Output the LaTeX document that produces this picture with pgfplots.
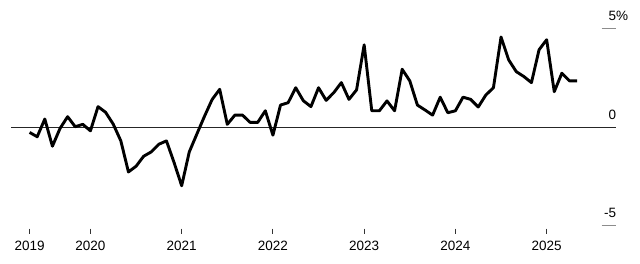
\documentclass[border=0pt]{standalone}
\usepackage{pgfplots}
\pgfplotsset{compat=1.18}
\usepackage{fontspec}
\setmainfont{Liberation Sans}
\pgfplotstableread{
m v
4 -0.27
5 -0.49
6 0.41
7 -0.97
8 -0.07
9 0.53
10 0.02
11 0.14
12 -0.19
13 1.04
14 0.75
15 0.15
16 -0.70
17 -2.28
18 -1.99
19 -1.48
20 -1.26
21 -0.87
22 -0.70
23 -1.80
24 -2.98
25 -1.26
26 -0.35
27 0.55
28 1.40
29 1.92
30 0.14
31 0.61
32 0.61
33 0.24
34 0.24
35 0.83
36 -0.41
37 1.12
38 1.24
39 2.00
40 1.34
41 1.04
42 2.00
43 1.36
44 1.75
45 2.26
46 1.41
47 1.89
48 4.18
49 0.83
50 0.83
51 1.33
52 0.83
53 2.94
54 2.35
55 1.12
56 0.87
57 0.61
58 1.52
59 0.73
60 0.83
61 1.52
62 1.41
63 1.02
64 1.63
65 2.00
66 4.58
67 3.42
68 2.82
69 2.57
70 2.26
71 3.93
72 4.44
73 1.80
74 2.74
75 2.35
76 2.35
}\datatable
\begin{document}
\begin{tikzpicture}
\begin{axis}[
  at={(0pt,0pt)}, anchor=south west,
  scale only axis,
  width=605.3pt, height=196.8pt,
  xmin=1.554, xmax=81.16,
  ymin=-5, ymax=5,
  axis line style={draw=none},
  clip=false,
  xtick={4,12,24,36,48,60,72},
  xticklabels={2019,2020,2021,2022,2023,2024,2025},
  xtick style={draw=none},
  ytick={-5,0,5},
  yticklabels={-5,0,5\rlap{\%}},
  ytick style={draw=none},
  major tick length=0pt,
  yticklabel pos=right,
  tick label style={font=\fontsize{13.5}{16}\selectfont, text=black},
  xticklabel style={anchor=base, inner sep=0pt, yshift=-24.5pt},
  yticklabel style={anchor=base east, inner sep=0pt, yshift=8pt},
]
\addplot[black!85, line width=1pt, forget plot] coordinates {(1.554,0) (81.16,0)};
\addplot[black!45, line width=1.2pt, forget plot] coordinates {(79.24,5) (81.16,5)};
\addplot[black!45, line width=1.2pt, forget plot] coordinates {(79.24,-5) (81.16,-5)};
\pgfplotsinvokeforeach{4,12,24,36,48,60,72}{
  \draw[black!80, line width=0.9pt] ([yshift=-3pt]axis cs:#1,-5) -- ([yshift=-8pt]axis cs:#1,-5);
}
\addplot[black, line width=2.9pt, line join=round] table[x=m, y=v] {\datatable};
\end{axis}
\pgfresetboundingbox
\useasboundingbox (-11pt,-37.5pt) rectangle (629pt,225.5pt);
\end{tikzpicture}
\end{document}
